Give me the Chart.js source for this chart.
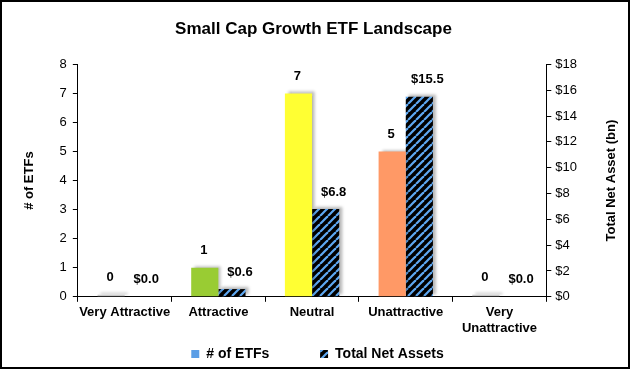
<!DOCTYPE html>
<html>
<head>
<meta charset="utf-8">
<script src="https://cdn.jsdelivr.net/npm/chart.js@4/dist/chart.umd.min.js"></script>
<style>
  html, body { margin: 0; padding: 0; background: #fff; }
  #wrap { width: 630px; height: 369px; position: relative; }
</style>
</head>
<body>
<div id="wrap"><canvas id="chart" width="630" height="369"></canvas></div>
<script>
const categories = ['Very Attractive', 'Attractive', 'Neutral', 'Unattractive', ['Very', 'Unattractive']];
const etfCounts = [0, 1, 7, 5, 0];
const netAssets = [0.0, 0.6, 6.8, 15.5, 0.0];
const etfColors = ['#c8c8c8', '#99cc33', '#ffff33', '#ff9966', '#c8c8c8'];
const countTicks = [0, 8, 1];
const assetTicks = [0, 18, 2];
const legendNames = ['# of ETFs', 'Total Net Assets'];

const FONT = "Arial, 'Liberation Sans', sans-serif";

function stripes() {
    const c = document.createElement('canvas');
    c.width = 8;
    c.height = 8;
    const g = c.getContext('2d');
    g.fillStyle = '#000';
    g.fillRect(0, 0, 8, 8);
    g.strokeStyle = '#5ea8f2';
    g.lineWidth = 2.2;
    for (let o = -8; o <= 8; o += 8) {
        g.beginPath();
        g.moveTo(o, 8);
        g.lineTo(o + 8, 0);
        g.stroke();
    }
    return g.createPattern(c, 'repeat');
}
const stripeFill = stripes();

const shadowPlugin = {
    id: 'shadow',
    afterLayout(chart) {
        // nudge the legend and title to where the original sits
        chart.legend.left += 18;
        chart.legend.right += 18;
        chart.titleBlock.left += 14;
        chart.titleBlock.right += 14;
    },
    beforeDatasetsDraw(chart) {
        const ctx = chart.ctx;
        ctx.save();
        ctx.shadowColor = 'rgba(0,0,0,0.28)';
        ctx.shadowBlur = 3;
        ctx.shadowOffsetX = 3;
        ctx.shadowOffsetY = -2;
    },
    afterDatasetsDraw(chart) {
        chart.ctx.restore();
    }
};

const labelPlugin = {
    id: 'labels',
    afterDraw(chart) {
        const ctx = chart.ctx;
        const area = chart.chartArea;
        ctx.save();
        ctx.font = 'bold 13px ' + FONT;
        ctx.fillStyle = '#000';
        ctx.textAlign = 'center';
        ctx.textBaseline = 'middle';
        chart.getDatasetMeta(0).data.forEach((bar, i) => {
            ctx.fillText(String(etfCounts[i]), bar.x - 1, bar.y - 17);
        });
        chart.getDatasetMeta(1).data.forEach((bar, i) => {
            ctx.fillText('$' + netAssets[i].toFixed(1), bar.x + 8, bar.y - 17);
        });
        // right axis title, reading upwards
        ctx.translate(611, (area.top + area.bottom) / 2);
        ctx.rotate(-Math.PI / 2);
        ctx.fillText('Total Net Asset (bn)', 0, 0);
        ctx.setTransform(1, 0, 0, 1, 0, 0);
        // outer frame
        ctx.strokeStyle = '#000';
        ctx.lineWidth = 2;
        ctx.strokeRect(1, 1, chart.width - 2, chart.height - 2);
        ctx.restore();
    }
};

const axisGrid = { display: true, drawOnChartArea: false, drawTicks: true, tickLength: 5, color: '#000' };

let chart = new Chart(document.querySelector('#chart'), {
    type: 'bar',
    data: {
        labels: categories,
        datasets: [{
            label: legendNames[0],
            data: etfCounts,
            backgroundColor: etfColors,
            yAxisID: 'y',
            minBarLength: 2
        }, {
            label: legendNames[1],
            data: netAssets,
            backgroundColor: stripeFill,
            yAxisID: 'y1'
        }]
    },
    plugins: [shadowPlugin, labelPlugin],
    options: {
        responsive: false,
        animation: false,
        datasets: { bar: { categoryPercentage: 0.58, barPercentage: 1 } },
        layout: { padding: { left: 18, right: 49, top: 4, bottom: -2 } },
        plugins: {
            title: {
                display: true,
                text: 'Small Cap Growth ETF Landscape',
                font: { family: FONT, size: 17, weight: 'bold' },
                color: '#000',
                padding: { top: 15, bottom: 25 }
            },
            legend: {
                position: 'bottom',
                labels: {
                    font: { family: FONT, size: 14, weight: 'bold' },
                    color: '#000',
                    boxWidth: 8,
                    boxHeight: 8,
                    padding: 8,
                    generateLabels: () => [
                        { text: legendNames[0] + '           ', fillStyle: '#5b9ee6', strokeStyle: '#5b9ee6', lineWidth: 0, datasetIndex: 0 },
                        { text: legendNames[1], fillStyle: stripeFill, strokeStyle: '#000', lineWidth: 0, datasetIndex: 1 }
                    ]
                }
            },
            tooltip: { enabled: false }
        },
        scales: {
            x: {
                grid: axisGrid,
                border: { display: true, color: '#000', width: 1 },
                ticks: { color: '#000', font: { family: FONT, size: 13, weight: 'bold' }, maxRotation: 0, autoSkip: false, padding: 3 }
            },
            y: {
                position: 'left',
                min: countTicks[0],
                max: countTicks[1],
                grid: axisGrid,
                border: { display: true, color: '#000', width: 1 },
                ticks: { stepSize: countTicks[2], color: '#000', font: { family: FONT, size: 13 }, padding: 6 },
                title: { display: true, text: '# of ETFs', color: '#000', font: { family: FONT, size: 13, weight: 'bold' }, padding: { bottom: 16 } }
            },
            y1: {
                position: 'right',
                min: assetTicks[0],
                max: assetTicks[1],
                grid: axisGrid,
                border: { display: true, color: '#000', width: 1 },
                ticks: { stepSize: assetTicks[2], color: '#000', font: { family: FONT, size: 13 }, padding: 4, callback: v => '$' + v }
            }
        }
    }
});
</script>
</body>
</html>
